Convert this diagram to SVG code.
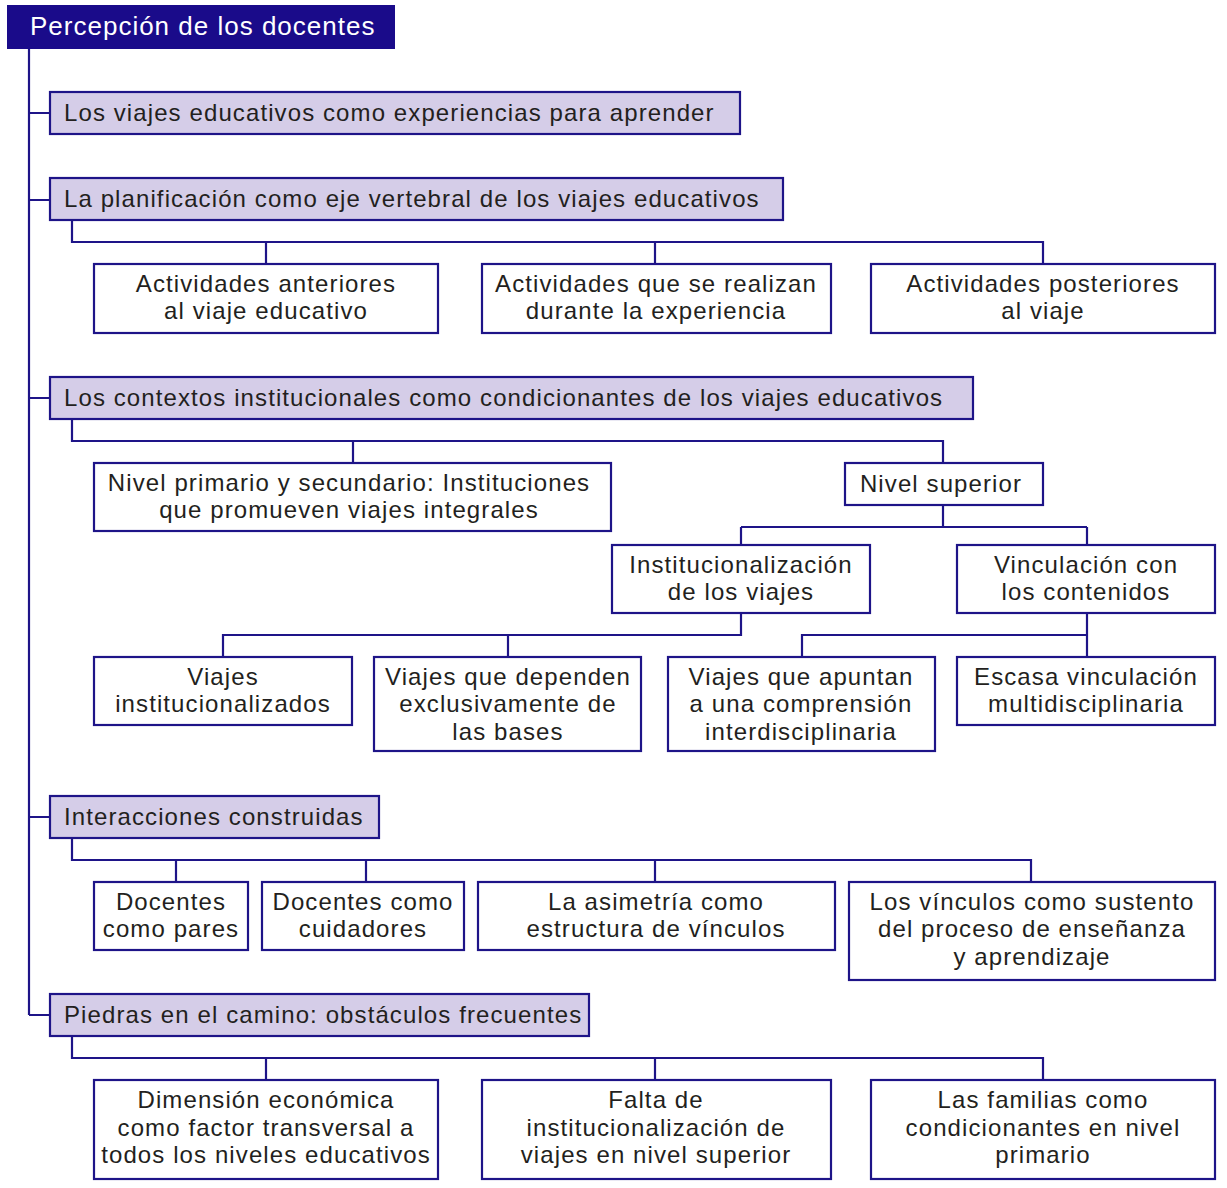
<svg xmlns="http://www.w3.org/2000/svg" width="1227" height="1188" viewBox="0 0 1227 1188">
<style>
.b{fill:#fff;stroke:#1e1488;stroke-width:2.2}
.h{fill:#d5cde8;stroke:#1e1488;stroke-width:2.2}
.t{font-family:"Liberation Sans",Arial,sans-serif;font-size:24px;letter-spacing:1.1px;fill:#231f20}
.c{text-anchor:middle}
.w{fill:#fff;font-size:26px;letter-spacing:1px}
#connectors path{fill:none;stroke:#1e1488;stroke-width:2.2}
</style>
<rect width="1227" height="1188" fill="#fff"/>
<g id="connectors">
<path d="M29 49V1015M29 113H50M29 200H50M29 398H50M29 817H50M29 1015H50"/>
<path d="M72 220V242H1043V264M266 242V264M655 242V264"/>
<path d="M72 419V441H943V463M353 441V463"/>
<path d="M943 505V527M741 527H1087M741 527V545M1087 527V545"/>
<path d="M741 613V635H223V657M508 635V657"/>
<path d="M1087 613V657M1087 635H802V657"/>
<path d="M72 838V860H1031V882M176 860V882M366 860V882M655 860V882"/>
<path d="M72 1036V1058H1043V1080M266 1058V1080M655 1058V1080"/>
</g>
<g id="root">
<rect x="7" y="5" width="388" height="44" fill="#1a0b8a"/>
<text class="t w" x="30" y="35">Percepción de los docentes</text>
</g>
<g id="n1">
<rect class="h" x="50" y="92" width="690" height="42"/>
<text class="t" x="64" y="121">Los viajes educativos como experiencias para aprender</text>
</g>
<g id="n2">
<rect class="h" x="50" y="178" width="733" height="42"/>
<text class="t" x="64" y="207">La planificación como eje vertebral de los viajes educativos</text>
</g>
<g id="n2a">
<rect class="b" x="94" y="264" width="344" height="69"/>
<text class="t c" x="266" y="292">Actividades anteriores</text>
<text class="t c" x="266" y="319">al viaje educativo</text>
</g>
<g id="n2b">
<rect class="b" x="482" y="264" width="349" height="69"/>
<text class="t c" x="656" y="292">Actividades que se realizan</text>
<text class="t c" x="656" y="319">durante la experiencia</text>
</g>
<g id="n2c">
<rect class="b" x="871" y="264" width="344" height="69"/>
<text class="t c" x="1043" y="292">Actividades posteriores</text>
<text class="t c" x="1043" y="319">al viaje</text>
</g>
<g id="n3">
<rect class="h" x="50" y="377" width="923" height="42"/>
<text class="t" x="64" y="406">Los contextos institucionales como condicionantes de los viajes educativos</text>
</g>
<g id="n3a">
<rect class="b" x="94" y="463" width="517" height="68"/>
<text class="t c" x="349" y="491">Nivel primario y secundario: Instituciones</text>
<text class="t c" x="349" y="518">que promueven viajes integrales</text>
</g>
<g id="n3b">
<rect class="b" x="845" y="463" width="198" height="42"/>
<text class="t c" x="941" y="492">Nivel superior</text>
</g>
<g id="n3b1">
<rect class="b" x="612" y="545" width="258" height="68"/>
<text class="t c" x="741" y="573">Institucionalización</text>
<text class="t c" x="741" y="600">de los viajes</text>
</g>
<g id="n3b2">
<rect class="b" x="957" y="545" width="258" height="68"/>
<text class="t c" x="1086" y="573">Vinculación con</text>
<text class="t c" x="1086" y="600">los contenidos</text>
</g>
<g id="n3b1a">
<rect class="b" x="94" y="657" width="258" height="68"/>
<text class="t c" x="223" y="685">Viajes</text>
<text class="t c" x="223" y="712">institucionalizados</text>
</g>
<g id="n3b1b">
<rect class="b" x="374" y="657" width="267" height="94"/>
<text class="t c" x="508" y="685">Viajes que dependen</text>
<text class="t c" x="508" y="712">exclusivamente de</text>
<text class="t c" x="508" y="740">las bases</text>
</g>
<g id="n3b2a">
<rect class="b" x="668" y="657" width="267" height="94"/>
<text class="t c" x="801" y="685">Viajes que apuntan</text>
<text class="t c" x="801" y="712">a una comprensión</text>
<text class="t c" x="801" y="740">interdisciplinaria</text>
</g>
<g id="n3b2b">
<rect class="b" x="957" y="657" width="258" height="68"/>
<text class="t c" x="1086" y="685">Escasa vinculación</text>
<text class="t c" x="1086" y="712">multidisciplinaria</text>
</g>
<g id="n4">
<rect class="h" x="50" y="796" width="329" height="42"/>
<text class="t" x="64" y="825">Interacciones construidas</text>
</g>
<g id="n4a">
<rect class="b" x="94" y="882" width="154" height="68"/>
<text class="t c" x="171" y="910">Docentes</text>
<text class="t c" x="171" y="937">como pares</text>
</g>
<g id="n4b">
<rect class="b" x="262" y="882" width="202" height="68"/>
<text class="t c" x="363" y="910">Docentes como</text>
<text class="t c" x="363" y="937">cuidadores</text>
</g>
<g id="n4c">
<rect class="b" x="478" y="882" width="357" height="68"/>
<text class="t c" x="656" y="910">La asimetría como</text>
<text class="t c" x="656" y="937">estructura de vínculos</text>
</g>
<g id="n4d">
<rect class="b" x="849" y="882" width="366" height="98"/>
<text class="t c" x="1032" y="910">Los vínculos como sustento</text>
<text class="t c" x="1032" y="937">del proceso de enseñanza</text>
<text class="t c" x="1032" y="965">y aprendizaje</text>
</g>
<g id="n5">
<rect class="h" x="50" y="994" width="539" height="42"/>
<text class="t" x="64" y="1023">Piedras en el camino: obstáculos frecuentes</text>
</g>
<g id="n5a">
<rect class="b" x="94" y="1080" width="344" height="99"/>
<text class="t c" x="266" y="1108">Dimensión económica</text>
<text class="t c" x="266" y="1136">como factor transversal a</text>
<text class="t c" x="266" y="1163">todos los niveles educativos</text>
</g>
<g id="n5b">
<rect class="b" x="482" y="1080" width="349" height="99"/>
<text class="t c" x="656" y="1108">Falta de</text>
<text class="t c" x="656" y="1136">institucionalización de</text>
<text class="t c" x="656" y="1163">viajes en nivel superior</text>
</g>
<g id="n5c">
<rect class="b" x="871" y="1080" width="344" height="99"/>
<text class="t c" x="1043" y="1108">Las familias como</text>
<text class="t c" x="1043" y="1136">condicionantes en nivel</text>
<text class="t c" x="1043" y="1163">primario</text>
</g>
</svg>
